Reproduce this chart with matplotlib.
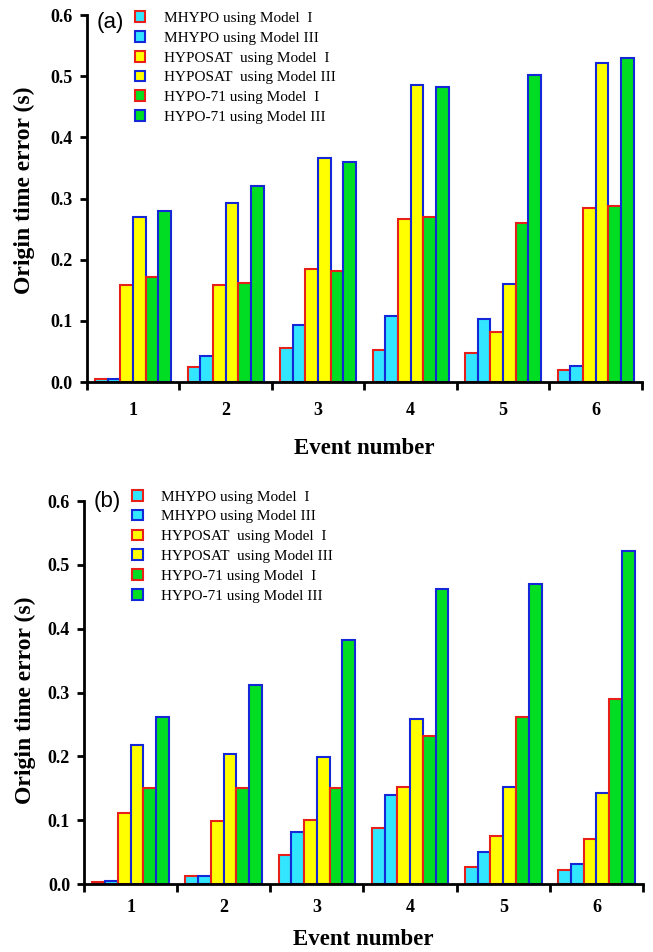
import numpy as np
import matplotlib.pyplot as plt
from matplotlib.patches import Patch

events = [1, 2, 3, 4, 5, 6]
series = [
    "MHYPO using Model  I",
    "MHYPO using Model III",
    "HYPOSAT  using Model  I",
    "HYPOSAT  using Model III",
    "HYPO-71 using Model  I",
    "HYPO-71 using Model III",
]
fills = ["#33e6ff", "#33e6ff", "#ffff00", "#ffff00", "#00dd22", "#00dd22"]
edges = ["#e8201a", "#1428d8", "#e8201a", "#1428d8", "#e8201a", "#1428d8"]

# panel (a), one list per series, values per event 1..6
a_mhypo_1 = [0.005, 0.025, 0.055, 0.053, 0.048, 0.020]
a_mhypo_3 = [0.005, 0.042, 0.093, 0.108, 0.103, 0.027]
a_hyposat_1 = [0.158, 0.158, 0.185, 0.267, 0.082, 0.285]
a_hyposat_3 = [0.270, 0.293, 0.367, 0.485, 0.160, 0.522]
a_hypo71_1 = [0.172, 0.162, 0.182, 0.270, 0.260, 0.288]
a_hypo71_3 = [0.280, 0.320, 0.360, 0.482, 0.502, 0.530]

# panel (b)
b_mhypo_1 = [0.003, 0.012, 0.045, 0.087, 0.026, 0.022]
b_mhypo_3 = [0.005, 0.012, 0.082, 0.140, 0.050, 0.031]
b_hyposat_1 = [0.112, 0.099, 0.101, 0.152, 0.075, 0.070]
b_hyposat_3 = [0.218, 0.203, 0.199, 0.259, 0.152, 0.143]
b_hypo71_1 = [0.150, 0.150, 0.150, 0.232, 0.262, 0.290]
b_hypo71_3 = [0.262, 0.312, 0.382, 0.462, 0.470, 0.522]

panel_a = [a_mhypo_1, a_mhypo_3, a_hyposat_1, a_hyposat_3, a_hypo71_1, a_hypo71_3]
panel_b = [b_mhypo_1, b_mhypo_3, b_hyposat_1, b_hyposat_3, b_hypo71_1, b_hypo71_3]

serif = ["Liberation Serif", "DejaVu Serif"]

fig = plt.figure(figsize=(6.53, 9.52), dpi=100)
ax1 = fig.add_axes([0.133, 0.5987, 0.85, 0.3855])
ax2 = fig.add_axes([0.1286, 0.0714, 0.8561, 0.4023])


def draw(ax, data, tag, tag_y, leg_top, tick_pad, xlab_y, ylab_xy):
    x = np.array(events)
    w = 0.137
    for i, vals in enumerate(data):
        ax.bar(x + (i - 2.5) * w, vals, w, color=fills[i], edgecolor=edges[i],
               linewidth=1.5, zorder=2)
    ax.set_xlim(0.5, 6.5)
    ax.set_ylim(0, 0.6)
    ax.set_yticks(np.arange(0, 0.61, 0.1))
    ax.set_yticklabels([f"{v:.1f}" for v in np.arange(0, 0.61, 0.1)])
    ax.set_xticks(np.arange(0.5, 6.6, 1))
    ax.set_xticklabels([])
    ax.set_xticks(events, minor=True)
    ax.set_xticklabels([str(e) for e in events], minor=True)
    ax.tick_params(axis="x", which="minor", length=0, pad=tick_pad)
    ax.tick_params(axis="x", which="major", length=6, width=2, direction="out")
    ax.tick_params(axis="y", length=5, width=2, direction="out", pad=5)
    for lab in ax.get_xticklabels(minor=True) + ax.get_yticklabels():
        lab.set_family(serif)
        lab.set_fontweight("bold")
        lab.set_fontsize(13)
    for s in ["top", "right"]:
        ax.spines[s].set_visible(False)
    for s in ["left", "bottom"]:
        ax.spines[s].set_linewidth(2)
    ax.set_ylabel("Origin time error (s)", family=serif, fontweight="bold",
                  fontsize=17, va="center")
    ax.yaxis.set_label_coords(*ylab_xy)
    ax.set_xlabel("Event number", family=serif, fontweight="bold",
                  fontsize=16.5, va="center")
    ax.xaxis.set_label_coords(0.5, xlab_y)
    ax.text(0.018, tag_y, tag, transform=ax.transAxes, fontsize=16,
            family=["Liberation Sans"], va="center", ha="left")
    handles = [Patch(facecolor=fills[i], edgecolor=edges[i], linewidth=1.5)
               for i in range(6)]
    ax.legend(handles, series, loc="upper left", bbox_to_anchor=(0.075, leg_top),
              frameon=False, prop={"family": serif, "size": 11},
              handlelength=0.7, handleheight=0.7, handletextpad=1.2,
              labelspacing=0.4, borderaxespad=0)


draw(ax1, panel_a, "(a)", 0.981, 1.027, 14.5, -0.180, (-0.112, 0.523))
draw(ax2, panel_b, "(b)", 1.0, 1.045, 11, -0.146, (-0.1055, 0.48))

fig.savefig("out.png", dpi=100)
